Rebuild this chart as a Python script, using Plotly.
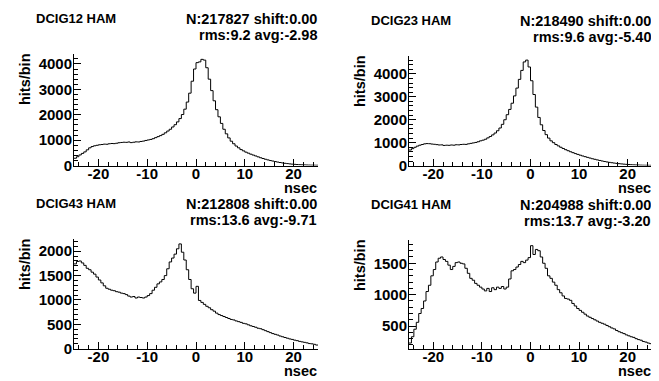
import numpy as np
import plotly.graph_objects as go

W, H = 659, 381
FONT = "Liberation Sans"

# bin edges: -25..25 in 0.5 ns bins
x_min, x_max, bin_w = -25.0, 25.0, 0.5

names = ["DCIG12 HAM", "DCIG23 HAM", "DCIG43 HAM", "DCIG41 HAM"]
stats1 = ["N:217827 shift:0.00", "N:218490 shift:0.00", "N:212808 shift:0.00", "N:204988 shift:0.00"]
stats2 = ["rms:9.2 avg:-2.98", "rms:9.6 avg:-5.40", "rms:13.6 avg:-9.71", "rms:13.7 avg:-3.20"]

x_ticks = [-20, -10, 0, 10, 20]
y_ticks = [[0, 1000, 2000, 3000, 4000], [0, 1000, 2000, 3000, 4000],
           [0, 500, 1000, 1500, 2000], [500, 1000, 1500]]

h12 = [290, 350, 420, 480, 540, 620, 700, 750, 780, 800,
       820, 830, 845, 840, 860, 870, 865, 880, 900, 910,
       920, 915, 930, 905, 920, 935, 930, 950, 965, 990,
       1010, 1030, 1060, 1100, 1140, 1180, 1230, 1290, 1360, 1430,
       1520, 1610, 1720, 1850, 2010, 2220, 2500, 2850, 3320, 3800,
       4050, 4080, 4180, 4150, 3850, 3400, 2950, 2550, 2200, 1920,
       1660, 1430, 1250, 1090, 960, 860, 770, 700, 630, 580,
       530, 490, 450, 415, 380, 345, 310, 280, 250, 225,
       200, 180, 160, 140, 122, 106, 92, 80, 68, 58,
       50, 43, 37, 32, 28, 24, 21, 18, 16, 14]

h23 = [680, 740, 800, 850, 890, 920, 950, 960, 955, 940,
       930, 915, 900, 905, 880, 890, 885, 900, 890, 910,
       905, 920, 930, 925, 950, 970, 990, 1010, 1040, 1080,
       1110, 1150, 1210, 1270, 1340, 1420, 1520, 1640, 1800, 2000,
       2220, 2450, 2720, 3040, 3380, 3760, 4150, 4520, 4600, 4300,
       3700, 3100, 2550, 2100, 1780, 1530, 1350, 1200, 1080, 1000,
       920, 860, 800, 745, 695, 650, 605, 565, 525, 490,
       455, 420, 390, 360, 330, 300, 275, 250, 225, 202,
       180, 160, 142, 126, 111, 97, 85, 74, 64, 55,
       47, 40, 34, 29, 25, 21, 18, 16, 14, 12]

h43 = [1740, 1790, 1800, 1760, 1710, 1650, 1620, 1570, 1530, 1470,
       1410, 1350, 1290, 1240, 1220, 1200, 1190, 1170, 1160, 1140,
       1130, 1110, 1080, 1060, 1070, 1040, 1060, 1050, 1040, 1060,
       1090, 1130, 1200, 1260, 1330, 1370, 1420, 1500, 1640, 1780,
       1860, 1940, 2050, 2150, 1980, 1820, 1620, 1420, 1230, 1140,
       1280, 990, 950, 910, 870, 840, 800, 770, 730, 700,
       680, 660, 640, 620, 600, 590, 570, 555, 540, 520,
       510, 490, 470, 455, 440, 420, 410, 390, 370, 350,
       330, 310, 295, 280, 260, 245, 230, 215, 200, 190,
       175, 165, 150, 140, 130, 120, 105, 100, 90, 75]

h41 = [230, 330, 450, 560, 700, 780, 900, 1050, 1150, 1300,
       1400, 1520, 1580, 1600, 1560, 1530, 1470, 1400, 1450, 1510,
       1520, 1500, 1490, 1420, 1340, 1260, 1230, 1180, 1150, 1120,
       1090, 1060, 1100, 1050, 1110, 1080, 1120, 1100, 1130, 1090,
       1120, 1250, 1380, 1400, 1440, 1480, 1530, 1510, 1550, 1590,
       1780, 1640, 1720, 1700, 1600, 1500, 1420, 1300, 1260, 1200,
       1150, 1080, 1030, 980, 940, 930, 910, 860, 820, 780,
       750, 720, 690, 660, 640, 620, 600, 580, 560, 545,
       530, 510, 490, 470, 455, 430, 410, 395, 380, 360,
       345, 330, 320, 300, 285, 275, 255, 245, 230, 220]

hists = [h12, h23, h43, h41]
y_ranges = [[0, 4390], [0, 4780], [0, 2250], [140, 1870]]
y_minor = [200, 200, 100, 100]

# panel frames in pixels: (left, right, top, bottom)
frames = [(66, 310, 47, 161), (401, 644, 49, 161), (66, 310, 236, 348), (401, 644, 237, 348)]


def px(x):
    return x / W


def py(y):
    return 1 - y / H


def bold(vals):
    return [f"<b>{v}</b>" for v in vals]


fig = go.Figure()
edges = np.arange(x_min, x_max + bin_w / 2, bin_w)
annotations = []
for i, (h, fr) in enumerate(zip(hists, frames)):
    n = i + 1
    xa = "x" if n == 1 else f"x{n}"
    ya = "y" if n == 1 else f"y{n}"
    yv = list(h) + [h[-1]]
    fig.add_trace(go.Scatter(x=edges, y=yv, mode="lines", line=dict(color="black", width=1, shape="hv"),
                             xaxis=xa, yaxis=ya, showlegend=False, hoverinfo="skip"))
    L, R, T, B = fr
    axis_common = dict(showline=True, linecolor="black", linewidth=1, ticks="inside", ticklen=7,
                       tickcolor="black", showgrid=False, zeroline=False,
                       tickfont=dict(family=FONT, size=15, color="black", weight=700))
    fig.layout[f"xaxis{'' if n == 1 else n}"] = dict(
        domain=[px(L), px(R)], range=[x_min, x_max], anchor=ya,
        tickvals=x_ticks, ticktext=bold(x_ticks), ticklabelstandoff=-6,
        minor=dict(dtick=2, tick0=0, ticks="inside", ticklen=4, tickcolor="black"), **axis_common)
    fig.layout[f"yaxis{'' if n == 1 else n}"] = dict(
        domain=[py(B), py(T)], range=y_ranges[i], anchor=xa,
        tickvals=y_ticks[i], ticktext=bold(y_ticks[i]), ticklabelstandoff=-2,
        minor=dict(dtick=y_minor[i], tick0=0, ticks="inside", ticklen=4, tickcolor="black"), **axis_common)

    top = T - 47  # panel offset relative to first row layout
    f = dict(family=FONT, size=13, color="black", weight=700)
    f2 = dict(family=FONT, size=14.5, color="black", weight=700)
    annotations += [
        dict(text=names[i], x=px(L - 39), y=py(top + 11), xanchor="left", yanchor="middle", font=f),
        dict(text=stats1[i], x=px(R), y=py(top + 11), xanchor="right", yanchor="middle", font=f2),
        dict(text=stats2[i], x=px(R), y=py(top + 28), xanchor="right", yanchor="middle", font=f2),
        dict(text="hits/bin", x=px(L - 49), y=py(T - 2), xanchor="center", yanchor="top", textangle=-90, font=f2),
        dict(text="nsec", x=px(R), y=py(B + 23), xanchor="right", yanchor="middle", font=f2),
    ]

for a in annotations:
    a.update(xref="paper", yref="paper", showarrow=False, borderpad=0)

fig.update_layout(width=W, height=H, margin=dict(l=0, r=0, t=0, b=0), paper_bgcolor="white",
                  plot_bgcolor="white", annotations=annotations, font=dict(family=FONT))
fig.write_html("out.html")
